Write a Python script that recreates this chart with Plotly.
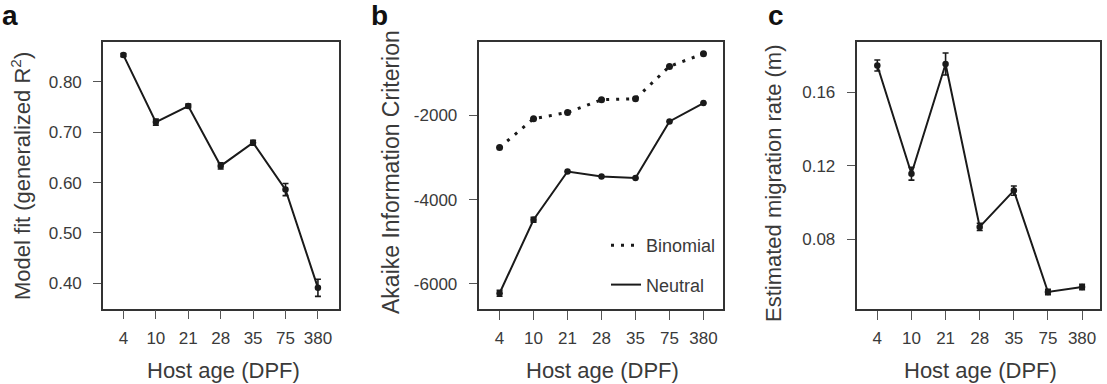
import plotly.graph_objects as go

# ---------------- data ----------------
host_age = ["4", "10", "21", "28", "35", "75", "380"]

model_fit = [0.853, 0.720, 0.752, 0.633, 0.679, 0.586, 0.391]
model_fit_err = [0.003, 0.006, 0.004, 0.006, 0.005, 0.012, 0.017]

aic_binomial = [-2760, -2078, -1929, -1627, -1603, -836, -534]
aic_neutral = [-6221, -4475, -3330, -3449, -3487, -2143, -1705]
aic_neutral_err = [70, 60, 0, 0, 0, 0, 0]

migration = [0.1747, 0.1156, 0.1755, 0.0866, 0.1064, 0.0511, 0.0538]
migration_err = [0.0030, 0.0035, 0.0060, 0.0020, 0.0025, 0.0015, 0.0015]

a_ticks = [0.4, 0.5, 0.6, 0.7, 0.8]
a_ticktext = ["0.40", "0.50", "0.60", "0.70", "0.80"]
b_ticks = [-6000, -4000, -2000]
b_ticktext = ["-6000", "-4000", "-2000"]
c_ticks = [0.08, 0.12, 0.16]
c_ticktext = ["0.08", "0.12", "0.16"]

# ---------------- style ----------------
W, H = 1107, 384
FONT = "Liberation Sans, Arial, Helvetica, sans-serif"
TXT = "#3a3a3a"
LINE = "#1a1a1a"
BOX = "#333333"

fig = go.Figure()

def px_x(p):
    return p / W

def px_y(p):
    return 1 - p / H

# panel domains (pixels measured from reference): (x-range, y-range top/bottom)
dom = {
    "a": ([103, 339], [42, 308.5]),
    "b": ([478.5, 722.5], [42, 309]),
    "c": ([856.5, 1099.5], [42, 309]),
}

line_kw = dict(color=LINE, width=2)
marker_kw = dict(color=LINE, size=6.5)
err_kw = dict(type="data", color=LINE, thickness=1.6, width=3)

# panel a
fig.add_trace(go.Scatter(x=host_age, y=model_fit, mode="lines+markers",
                         line=line_kw, marker=marker_kw,
                         error_y=dict(array=model_fit_err, **err_kw),
                         xaxis="x", yaxis="y", showlegend=False))
# panel b
fig.add_trace(go.Scatter(x=host_age, y=aic_binomial, mode="lines+markers",
                         line=dict(color=LINE, width=3, dash="3px,7px"),
                         marker=dict(color=LINE, size=7),
                         xaxis="x2", yaxis="y2", showlegend=False))
fig.add_trace(go.Scatter(x=host_age, y=aic_neutral, mode="lines+markers",
                         line=line_kw, marker=marker_kw,
                         error_y=dict(array=aic_neutral_err, **err_kw),
                         xaxis="x2", yaxis="y2", showlegend=False))
# legend entries (line samples only)
fig.add_trace(go.Scatter(x=[None], y=[None], mode="lines", name="Binomial",
                         line=dict(color=LINE, width=3, dash="3px,7px"),
                         xaxis="x2", yaxis="y2", legendgroup="bin"))
fig.add_trace(go.Scatter(x=[None], y=[None], mode="lines", name="Neutral",
                         line=dict(color=LINE, width=2),
                         xaxis="x2", yaxis="y2", legendgroup="neu"))
# panel c
fig.add_trace(go.Scatter(x=host_age, y=migration, mode="lines+markers",
                         line=line_kw, marker=marker_kw,
                         error_y=dict(array=migration_err, **err_kw),
                         xaxis="x3", yaxis="y3", showlegend=False))

def xaxis(xdom, rng, anchor):
    return dict(domain=[px_x(xdom[0]), px_x(xdom[1])], type="category",
                categoryorder="array", categoryarray=host_age, anchor=anchor,
                range=rng, showline=True, mirror=True, linecolor=BOX, linewidth=1.6,
                ticks="outside", ticklen=9, tickwidth=1.2, tickcolor="#555555",
                ticklabelstandoff=4,
                showgrid=False, zeroline=False, fixedrange=True,
                tickfont=dict(family=FONT, size=17, color=TXT))

def yaxis(ydom, rng, tv, tt, anchor):
    return dict(domain=[px_y(ydom[1]), px_y(ydom[0])], range=rng,
                tickvals=tv, ticktext=tt, anchor=anchor,
                showline=True, mirror=True, linecolor=BOX, linewidth=1.6,
                ticks="outside", ticklen=8, tickwidth=1.2, tickcolor="#555555",
                ticklabelstandoff=8,
                showgrid=False, zeroline=False, fixedrange=True,
                tickfont=dict(family=FONT, size=17, color=TXT))

fig.update_layout(
    width=W, height=H, margin=dict(l=0, r=0, t=0, b=0),
    paper_bgcolor="white", plot_bgcolor="white",
    xaxis=xaxis(dom["a"][0], [-0.63, 6.65], "y"),
    yaxis=yaxis(dom["a"][1], [0.350, 0.879], a_ticks, a_ticktext, "x"),
    xaxis2=xaxis(dom["b"][0], [-0.62, 6.56], "y2"),
    yaxis2=yaxis(dom["b"][1], [-6594, -257], b_ticks, b_ticktext, "x2"),
    xaxis3=xaxis(dom["c"][0], [-0.61, 6.51], "y3"),
    yaxis3=yaxis(dom["c"][1], [0.0418, 0.1875], c_ticks, c_ticktext, "x3"),
    legend=dict(x=px_x(606), y=px_y(227), xanchor="left", yanchor="top",
                bgcolor="rgba(0,0,0,0)", borderwidth=0,
                traceorder="grouped", tracegroupgap=13,
                font=dict(family=FONT, size=18, color=TXT),
                itemclick=False, itemdoubleclick=False),
    showlegend=True,
)

annotations = []
# panel letters
for letter, xpx in [("a", 9.5), ("b", 379.5), ("c", 776)]:
    annotations.append(dict(text=f"<b>{letter}</b>", x=px_x(xpx), y=px_y(-2),
                            xref="paper", yref="paper", xanchor="center", yanchor="top",
                            showarrow=False, font=dict(family=FONT, size=28, color="#111111")))
# x-axis titles
for cx in [(103 + 339) / 2, (478.5 + 722.5) / 2, (856.5 + 1099.5) / 2]:
    annotations.append(dict(text="Host age (DPF)", x=px_x(cx + 2), y=px_y(370),
                            xref="paper", yref="paper", xanchor="center", yanchor="middle",
                            showarrow=False, font=dict(family=FONT, size=22, color=TXT)))
# y-axis titles
for title, cx, cy, fs in [("Model fit (generalized R<sup>2</sup>)", 21, 176, 22),
                          ("Akaike Information Criterion", 391, 172, 23),
                          ("Estimated migration rate (m)", 773, 183, 22)]:
    annotations.append(dict(text=title, x=px_x(cx), y=px_y(cy), textangle=-90,
                            xref="paper", yref="paper", xanchor="center", yanchor="middle",
                            showarrow=False, font=dict(family=FONT, size=fs, color=TXT)))
fig.update_layout(annotations=annotations)

fig.write_html("out.html")
